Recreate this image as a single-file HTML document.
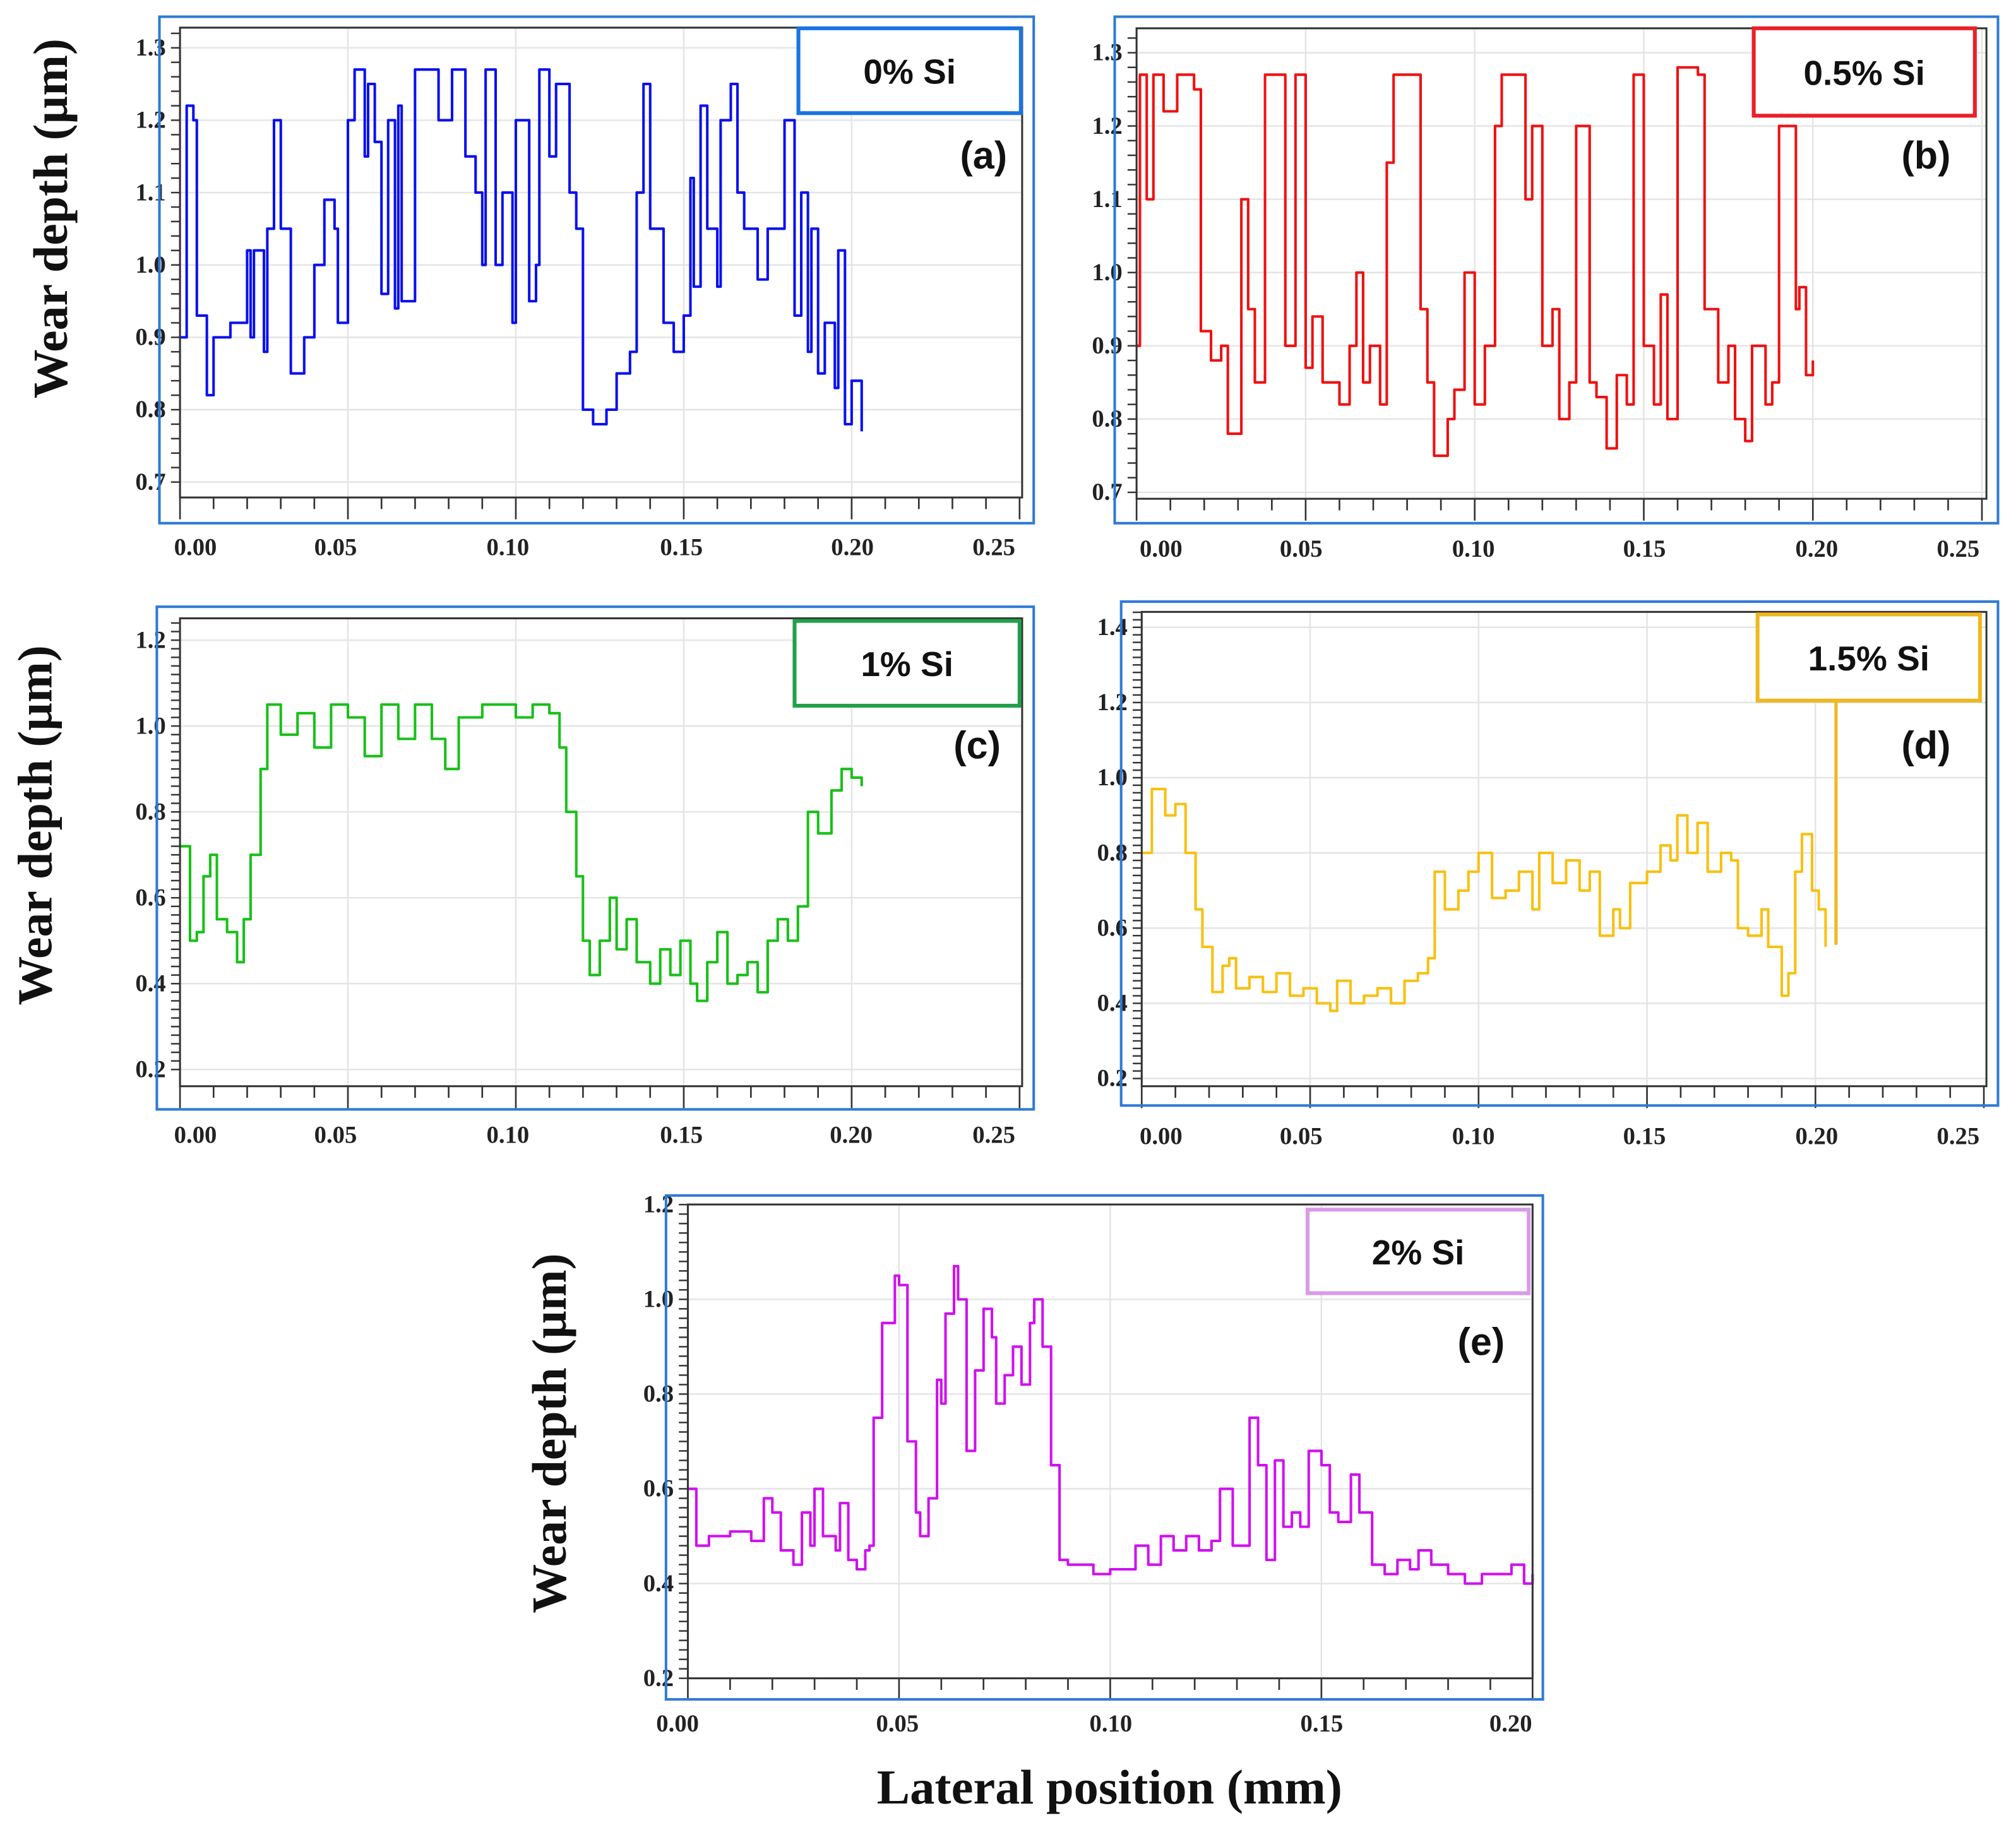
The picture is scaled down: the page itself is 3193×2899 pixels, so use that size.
<!DOCTYPE html>
<html><head><meta charset="utf-8"><style>
html,body{margin:0;padding:0;background:#fff}
svg{display:block}
.tl{font-family:"Liberation Serif",serif;font-weight:bold;font-size:19px;fill:#222}
.yt{font-family:"Liberation Serif",serif;font-weight:bold;font-size:38px;fill:#111}
.lg{font-family:"Liberation Sans",sans-serif;font-weight:bold;font-size:27px;fill:#111}
</style></head><body>
<svg id="fig" width="3193" height="2899" viewBox="0 0 1568 1423.6" xmlns="http://www.w3.org/2000/svg">
<text class="yt" x="863" y="1403" text-anchor="middle" textLength="362" lengthAdjust="spacingAndGlyphs" style="font-size:38px">Lateral position (mm)</text>
</svg>
<script>
// ---- data ----
const xA=[0,0.002,0.004,0.005,0.008,0.01,0.015,0.02,0.021,0.022,0.025,0.026,0.028,0.03,0.033,0.037,0.04,0.043,0.046,0.047,0.05,0.052,0.055,0.056,0.058,0.06,0.062,0.064,0.065,0.066,0.07,0.075,0.077,0.081,0.085,0.088,0.09,0.091,0.094,0.096,0.099,0.1,0.104,0.106,0.107,0.11,0.112,0.114,0.116,0.118,0.12,0.123,0.127,0.13,0.134,0.136,0.138,0.14,0.144,0.147,0.15,0.152,0.153,0.155,0.157,0.16,0.161,0.164,0.166,0.168,0.172,0.175,0.18,0.183,0.185,0.187,0.188,0.19,0.192,0.195,0.196,0.198,0.2,0.203];
const yA=[0.9,1.22,1.2,0.93,0.82,0.9,0.92,1.02,0.9,1.02,0.88,1.05,1.2,1.05,0.85,0.9,1.0,1.09,1.05,0.92,1.2,1.27,1.15,1.25,1.17,0.96,1.2,0.94,1.22,0.95,1.27,1.27,1.2,1.27,1.15,1.1,1.0,1.27,1.0,1.1,0.92,1.2,0.95,1.0,1.27,1.15,1.25,1.25,1.1,1.05,0.8,0.78,0.8,0.85,0.88,1.1,1.25,1.05,0.92,0.88,0.93,1.12,0.97,1.22,1.05,0.97,1.2,1.25,1.1,1.05,0.98,1.05,1.2,0.93,1.1,0.88,1.05,0.85,0.92,0.83,1.02,0.78,0.84,0.77];
const xB=[0,0.001,0.003,0.005,0.008,0.012,0.017,0.019,0.022,0.025,0.027,0.029,0.031,0.033,0.035,0.038,0.043,0.044,0.047,0.05,0.052,0.055,0.06,0.063,0.065,0.067,0.069,0.072,0.074,0.076,0.082,0.084,0.086,0.088,0.092,0.094,0.097,0.1,0.103,0.106,0.108,0.113,0.115,0.117,0.12,0.123,0.125,0.128,0.13,0.134,0.136,0.139,0.142,0.145,0.147,0.15,0.153,0.155,0.157,0.16,0.166,0.168,0.172,0.175,0.177,0.18,0.182,0.186,0.188,0.19,0.193,0.195,0.196,0.198,0.2];
const yB=[0.9,1.27,1.1,1.27,1.22,1.27,1.25,0.92,0.88,0.9,0.78,0.78,1.1,0.95,0.85,1.27,1.27,0.9,1.27,0.87,0.94,0.85,0.82,0.9,1.0,0.85,0.9,0.82,1.15,1.27,1.27,0.95,0.85,0.75,0.8,0.84,1.0,0.82,0.9,1.2,1.27,1.27,1.1,1.2,0.9,0.95,0.8,0.85,1.2,0.85,0.83,0.76,0.86,0.82,1.27,0.9,0.82,0.97,0.8,1.28,1.27,0.95,0.85,0.9,0.8,0.77,0.9,0.82,0.85,1.2,1.2,0.95,0.98,0.86,0.88];
const xC=[0,0.003,0.005,0.007,0.009,0.011,0.014,0.017,0.019,0.021,0.024,0.026,0.03,0.035,0.04,0.045,0.05,0.055,0.06,0.065,0.07,0.075,0.079,0.083,0.09,0.1,0.105,0.11,0.113,0.115,0.118,0.12,0.122,0.125,0.128,0.13,0.133,0.136,0.14,0.143,0.146,0.149,0.152,0.154,0.157,0.16,0.163,0.166,0.169,0.172,0.175,0.178,0.181,0.184,0.187,0.19,0.194,0.197,0.2,0.203];
const yC=[0.72,0.5,0.52,0.65,0.7,0.55,0.52,0.45,0.55,0.7,0.9,1.05,0.98,1.03,0.95,1.05,1.02,0.93,1.05,0.97,1.05,0.97,0.9,1.02,1.05,1.02,1.05,1.03,0.95,0.8,0.65,0.5,0.42,0.5,0.6,0.48,0.55,0.45,0.4,0.48,0.42,0.5,0.4,0.36,0.45,0.52,0.4,0.42,0.45,0.38,0.5,0.55,0.5,0.58,0.8,0.75,0.85,0.9,0.88,0.86];
const xD=[0,0.003,0.007,0.01,0.013,0.016,0.018,0.021,0.024,0.026,0.028,0.032,0.036,0.04,0.044,0.048,0.052,0.056,0.058,0.062,0.066,0.07,0.074,0.078,0.082,0.085,0.087,0.09,0.094,0.097,0.1,0.104,0.108,0.112,0.116,0.118,0.122,0.126,0.13,0.133,0.136,0.14,0.142,0.145,0.15,0.154,0.157,0.159,0.162,0.165,0.168,0.172,0.175,0.177,0.18,0.184,0.186,0.19,0.192,0.194,0.196,0.199,0.201,0.203];
const yD=[0.8,0.97,0.9,0.93,0.8,0.65,0.55,0.43,0.5,0.52,0.44,0.47,0.43,0.48,0.42,0.44,0.4,0.38,0.46,0.4,0.42,0.44,0.4,0.46,0.48,0.52,0.75,0.65,0.7,0.75,0.8,0.68,0.7,0.75,0.65,0.8,0.72,0.78,0.7,0.75,0.58,0.65,0.6,0.72,0.75,0.82,0.78,0.9,0.8,0.88,0.75,0.8,0.78,0.6,0.58,0.65,0.55,0.42,0.48,0.75,0.85,0.7,0.65,0.55];
const xE=[0,0.002,0.005,0.01,0.015,0.018,0.02,0.022,0.025,0.027,0.029,0.03,0.032,0.035,0.036,0.038,0.04,0.042,0.043,0.044,0.046,0.049,0.05,0.052,0.054,0.055,0.057,0.059,0.06,0.061,0.063,0.064,0.066,0.068,0.07,0.072,0.073,0.075,0.077,0.079,0.081,0.082,0.084,0.086,0.088,0.09,0.093,0.096,0.1,0.103,0.106,0.109,0.112,0.115,0.118,0.121,0.124,0.126,0.129,0.133,0.135,0.137,0.139,0.141,0.143,0.145,0.147,0.15,0.152,0.154,0.157,0.159,0.162,0.165,0.168,0.171,0.173,0.176,0.18,0.184,0.188,0.192,0.195,0.198,0.2];
const yE=[0.6,0.48,0.5,0.51,0.49,0.58,0.55,0.47,0.44,0.55,0.48,0.6,0.5,0.47,0.57,0.45,0.43,0.47,0.48,0.75,0.95,1.05,1.03,0.7,0.55,0.5,0.58,0.83,0.78,0.97,1.07,1.0,0.68,0.85,0.98,0.92,0.78,0.84,0.9,0.82,0.95,1.0,0.9,0.65,0.45,0.44,0.44,0.42,0.43,0.43,0.48,0.44,0.5,0.47,0.5,0.47,0.49,0.6,0.48,0.75,0.65,0.45,0.66,0.52,0.55,0.52,0.68,0.65,0.55,0.53,0.63,0.55,0.44,0.42,0.45,0.43,0.47,0.44,0.42,0.4,0.42,0.42,0.44,0.4,0.42];
const ticksA=["0.7","0.8","0.9","1.0","1.1","1.2","1.3"];
const ticksC=["0.2","0.4","0.6","0.8","1.0","1.2"];
const ticksD=["0.2","0.4","0.6","0.8","1.0","1.2","1.4"];
const xTicks=["0.00","0.05","0.10","0.15","0.20","0.25"];
const xTicksE=["0.00","0.05","0.10","0.15","0.20"];

const NS="http://www.w3.org/2000/svg";
const svg=document.getElementById('fig');
function mk(tag,attrs,parent){const e=document.createElementNS(NS,tag);for(const k in attrs)e.setAttribute(k,attrs[k]);(parent||svg).appendChild(e);return e;}

const panels=[
 {id:'a',frame:[124,13,804,407],plot:[140,21.5,795,387],x0:140,xs:2612,ymin:0.7,ymax:1.3,y0:375,yk:563,xmax:0.25,xt:xTicks,yt:ticksA,yst:0.1,xs_:xA,ys_:yA,col:'#0a10f0',box:[621,22,794,88],bc:'#1a74e0',lab:'0% Si',tag:'(a)',tagp:[765,131],xlab:[152,261,395,530,663,773],xly:432},
 {id:'b',frame:[867,13,1554,407],plot:[884,22,1545,388],x0:884,xs:2630,ymin:0.7,ymax:1.3,y0:383,yk:570,xmax:0.25,xt:xTicks,yt:ticksA,yst:0.1,xs_:xB,ys_:yB,col:'#f01010',box:[1364,22,1536,90],bc:'#e8202a',lab:'0.5% Si',tag:'(b)',tagp:[1498,131],xlab:[903,1012,1146,1279,1413,1523],xly:433},
 {id:'c',frame:[122,472,804,863],plot:[140,481,795,845],x0:140,xs:2612,ymin:0.2,ymax:1.2,y0:832,yk:334,xmax:0.25,xt:xTicks,yt:ticksC,yst:0.2,xs_:xC,ys_:yC,col:'#18c018',box:[618,483,793,549],bc:'#20a048',lab:'1% Si',tag:'(c)',tagp:[760,590],xlab:[152,261,395,530,662,773],xly:889},
 {id:'d',frame:[872,468,1554,860],plot:[888,476,1545,845],x0:888,xs:2620,ymin:0.2,ymax:1.4,y0:839,yk:292.5,xmax:0.25,xt:xTicks,yt:ticksD,yst:0.2,xs_:xD,ys_:yD,col:'#f8c010',box:[1367,478,1540,545],bc:'#f0b820',lab:'1.5% Si',tag:'(d)',tagp:[1498,590],xlab:[903,1012,1146,1279,1413,1523],xly:890},
 {id:'e',frame:[518,930,1200,1322],plot:[535,937,1192,1305.6],x0:535,xs:3285,ymin:0.2,ymax:1.2,y0:1305.6,yk:368.5,xmax:0.2,xt:xTicksE,yt:ticksC,yst:0.2,xs_:xE,ys_:yE,col:'#d010f0',box:[1017,941,1189,1006],bc:'#d89be8',lab:'2% Si',tag:'(e)',tagp:[1152,1054],xlab:[527,698,864,1028,1175],xly:1347}
];

panels.forEach(p=>{
 const g=mk('g',{});
 
 
 const X=v=>p.x0+v*p.xs, Y=v=>p.y0-(v-p.ymin)*p.yk;
 const [l,t,r,b]=p.plot;
 for(let i=0;i<p.xt.length;i++){const gx=X(i*0.05);if(gx>l+2&&gx<r-2){const gl=mk('line',{x1:gx,y1:t,x2:gx,y2:b,stroke:'#e4e4e4','stroke-width':1.2},g);}}
 p.yt.forEach((s,i)=>{const gy=Y(p.ymin+i*p.yst);if(gy>t+2&&gy<b-2){const gl=mk('line',{x1:l,y1:gy,x2:r,y2:gy,stroke:'#e4e4e4','stroke-width':1.2},g);}});
 let d='M'+X(p.xs_[0])+','+Y(p.ys_[0]);
 for(let i=1;i<p.xs_.length;i++){d+=' H'+X(p.xs_[i]).toFixed(1)+' V'+Y(p.ys_[i]).toFixed(1);}
 const ln=mk('path',{d:d,fill:'none',stroke:p.col,'stroke-width':2,'stroke-linejoin':'round'},g);
 
 
 const ax=mk('rect',{x:l,y:t,width:r-l,height:b-t,fill:'none',stroke:'#333','stroke-width':1.5},g);
 
 
 for(let v=0;v<=p.xmax+1e-9;v+=0.01){const tx=X(v);const major=Math.abs(v/0.05-Math.round(v/0.05))<1e-6;const tk=mk('line',{x1:tx,y1:b,x2:tx,y2:b+(major?17:9),stroke:'#333','stroke-width':1.3},g);}
 for(let v=p.ymin-0.0;v<=p.ymax+0.051;v+=0.02){const ty=Y(v);if(ty<t-1||ty>b+1)continue;const tk=mk('line',{x1:l-7,y1:ty,x2:l,y2:ty,stroke:'#333','stroke-width':1.2},g);}
 p.yt.forEach((s,i)=>{const tl=mk('text',{x:l-11,y:Y(p.ymin+i*p.yst)+6,'text-anchor':'end',class:'tl'},g);tl.textContent=s;});
 p.xt.forEach((s,i)=>{const tl=mk('text',{x:p.xlab[i],y:p.xly,'text-anchor':'middle',class:'tl'},g);tl.textContent=s;});
 const fr=mk('rect',{x:p.frame[0],y:p.frame[1],width:p.frame[2]-p.frame[0],height:p.frame[3]-p.frame[1],fill:'none',stroke:'#2e7ad6','stroke-width':2},g);
 
 
 const bx=p.box;
 if(p.id==='d'){const c=mk('line',{x1:1428,y1:bx[3],x2:1428,y2:735,stroke:p.bc,'stroke-width':2.5},g);}
 const lb=mk('rect',{x:bx[0],y:bx[1],width:bx[2]-bx[0],height:bx[3]-bx[1],fill:'#fff',stroke:p.bc,'stroke-width':3},g);
 
 
 const lt=mk('text',{x:(bx[0]+bx[2])/2,y:(bx[1]+bx[3])/2+10,'text-anchor':'middle',class:'lg'},g);
 lt.textContent=p.lab;
 
 
 const tg=mk('text',{x:p.tagp[0],y:p.tagp[1],'text-anchor':'middle',class:'lg',style:'font-size:30px'},g);
 tg.textContent=p.tag;
 
 
});
[[52,170],[40,642],[440,1115]].forEach(([x,y])=>{
 const t=mk('text',{x:x,y:y,'text-anchor':'middle',class:'yt',textLength:280,lengthAdjust:'spacingAndGlyphs',transform:'rotate(-90 '+x+' '+y+')'});
 t.textContent='Wear depth (\u00b5m)';
 
 
});
</script>
</body></html>
